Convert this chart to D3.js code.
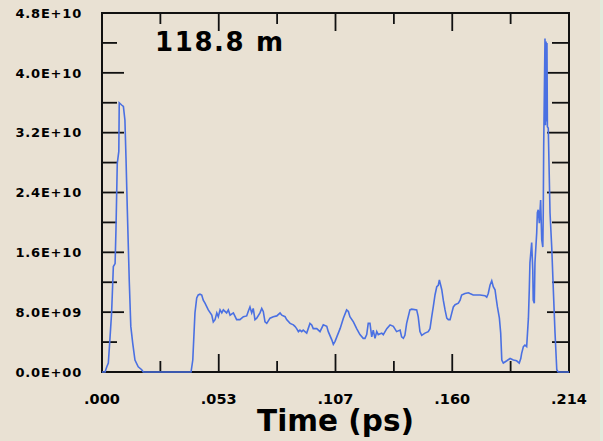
<!DOCTYPE html>
<html>
<head>
<meta charset="utf-8">
<script src="https://cdnjs.cloudflare.com/ajax/libs/d3/7.8.5/d3.min.js"></script>
<style>
body { margin: 0; background: #e9e1d3; }
svg text { font-family: "DejaVu Sans", sans-serif; font-weight: bold; fill: #000; }
</style>
</head>
<body>
<div id="chart"></div>
<script>
// time axis (ps) and signal (units of 1E+10)
var timePs = [
    0, 0.0014, 0.0022, 0.0029, 0.0037, 0.0044, 0.0052, 0.0060, 0.0064, 0.0070,
    0.0077, 0.0079, 0.0090, 0.0098, 0.0105, 0.0110, 0.0116, 0.0125, 0.0132, 0.0141,
    0.0151, 0.0166, 0.0182, 0.0189, 0.0408,
    0.0416, 0.0422, 0.0426, 0.0434, 0.0441, 0.0449, 0.0457, 0.0464, 0.0472, 0.0487,
    0.0503, 0.0510, 0.0518, 0.0526, 0.0533, 0.0541, 0.0549, 0.0556, 0.0571, 0.0579,
    0.0587, 0.0602, 0.0617, 0.0632, 0.0648, 0.0663, 0.0670, 0.0678, 0.0686, 0.0693,
    0.0701, 0.0709, 0.0724, 0.0732, 0.0739, 0.0747, 0.0755, 0.0770, 0.0785, 0.0801,
    0.0816, 0.0824, 0.0839, 0.0846, 0.0862, 0.0877, 0.0884, 0.0892, 0.0900, 0.0907,
    0.0915, 0.0922, 0.0938, 0.0945, 0.0953, 0.0961, 0.0968, 0.0984, 0.0999, 0.1014,
    0.1030, 0.1037, 0.1053, 0.1060, 0.1068, 0.1076, 0.1091, 0.1106, 0.1121, 0.1129,
    0.1136, 0.1152, 0.1167, 0.1182, 0.1197, 0.1205, 0.1213, 0.1220, 0.1228, 0.1236,
    0.1243, 0.1251, 0.1259, 0.1266, 0.1282, 0.1289, 0.1305, 0.1320, 0.1335, 0.1350,
    0.1366,
    0.1373, 0.1381, 0.1388, 0.1396, 0.1411, 0.1419, 0.1442, 0.1449, 0.1457, 0.1465,
    0.1480, 0.1495, 0.1503, 0.1511, 0.1518, 0.1526, 0.1534, 0.1541, 0.1546, 0.1552,
    0.1557, 0.1564, 0.1572, 0.1580, 0.1587, 0.1595, 0.1603, 0.1610, 0.1618, 0.1633,
    0.1641, 0.1648, 0.1663, 0.1679, 0.1686, 0.1701, 0.1732, 0.1755, 0.1763, 0.1770,
    0.1778, 0.1786, 0.1793, 0.1801, 0.1806, 0.1812, 0.1821, 0.1827, 0.1832, 0.1839,
    0.1855, 0.1870, 0.1885, 0.1900, 0.1912, 0.1919, 0.1923, 0.1931, 0.1938, 0.1946,
    0.1954, 0.1958, 0.1961, 0.1969, 0.1974, 0.1976, 0.1981, 0.1984, 0.1992, 0.1995,
    0.1999, 0.2004, 0.2010, 0.2015, 0.2020, 0.2022, 0.2024, 0.2030, 0.2032, 0.2035,
    0.2037, 0.2039, 0.2041, 0.2045, 0.2053, 0.2061, 0.2067, 0.2076, 0.2084, 0.2090,
    0.2140
];
var powerE10 = [
    0, 0, 0.07, 0.12, 0.47, 0.79, 1.41, 1.45, 1.90, 2.79,
    2.95, 3.60, 3.57, 3.55, 3.37, 2.86, 2.17, 1.21, 0.61, 0.38,
    0.16, 0.07, 0.03, 0, 0,
    0.16, 0.54, 0.79, 0.99, 1.03, 1.04, 1.03, 0.96, 0.92, 0.83,
    0.76, 0.67, 0.70, 0.79, 0.74, 0.83, 0.79, 0.83, 0.79, 0.83,
    0.76, 0.79, 0.70, 0.70, 0.74, 0.75, 0.81, 0.87, 0.79, 0.85,
    0.70, 0.72, 0.79, 0.85, 0.81, 0.67, 0.65, 0.72, 0.74, 0.75,
    0.79, 0.76, 0.74, 0.70, 0.65, 0.63, 0.61, 0.58, 0.54, 0.56,
    0.54, 0.56, 0.52, 0.58, 0.65, 0.63, 0.58, 0.58, 0.54, 0.63,
    0.61, 0.54, 0.43, 0.37, 0.41, 0.47, 0.58, 0.72, 0.83, 0.81,
    0.74, 0.67, 0.58, 0.50, 0.45, 0.45, 0.50, 0.65, 0.65, 0.47,
    0.56, 0.45, 0.54, 0.50, 0.52, 0.50, 0.58, 0.63, 0.61, 0.54,
    0.56,
    0.47, 0.45, 0.49, 0.65, 0.83, 0.84, 0.83, 0.74, 0.54, 0.49,
    0.52, 0.54, 0.58, 0.74, 0.87, 1.03, 1.14, 1.16, 1.23, 1.16,
    1.10, 0.96, 0.83, 0.72, 0.70, 0.70, 0.79, 0.87, 0.90, 0.92,
    0.96, 1.03, 1.05, 1.06, 1.05, 1.03, 1.03, 1.02, 1.00, 1.05,
    1.16, 1.22, 1.14, 1.10, 0.99, 0.87, 0.72, 0.52, 0.16, 0.12,
    0.15, 0.18, 0.16, 0.15, 0.12, 0.18, 0.25, 0.34, 0.36, 0.34,
    0.72, 1.10, 1.46, 1.73, 1.36, 0.96, 0.92, 1.46, 1.86, 2.13,
    2.17, 1.99, 2.30, 1.77, 1.67, 2.13, 3.01, 4.46, 3.30, 4.42,
    3.35, 4.40, 3.28, 3.26, 2.13, 1.66, 1.19, 0.52, 0.03, 0,
    0
];

var xMajor = [0, 0.0535, 0.107, 0.1605, 0.214];
var xMinor = [0.02675, 0.08025, 0.13375, 0.18725];
var xTickLabels = [".000", ".053", ".107", ".160", ".214"];
var yMajor = [0, 0.8, 1.6, 2.4, 3.2, 4.0, 4.8];
var yMinor = [0.4, 1.2, 2.0, 2.8, 3.6, 4.4];
var yTickLabels = ["0.0E+00", "8.0E+09", "1.6E+10", "2.4E+10", "3.2E+10", "4.0E+10", "4.8E+10"];

var margin = {top: 13, right: 34, bottom: 69, left: 102};
var svgWidth = 603, svgHeight = 441;
var width = svgWidth - margin.left - margin.right;
var height = svgHeight - margin.top - margin.bottom;

var svg = d3.select("#chart").append("svg")
    .attr("width", svgWidth)
    .attr("height", svgHeight);

svg.append("rect")
    .attr("width", svgWidth).attr("height", svgHeight)
    .attr("fill", "#e9e1d3");
svg.append("rect")
    .attr("x", 600).attr("width", 3).attr("height", svgHeight)
    .attr("fill", "#e2ebdc");

var g = svg.append("g")
    .attr("transform", "translate(" + margin.left + "," + margin.top + ")");

var x = d3.scaleLinear().domain([0, 0.214]).range([0, width]);
var y = d3.scaleLinear().domain([0, 4.8]).range([height, 0]);

// inward tick marks on all four sides
function xTicks(values, len) {
    var t = g.append("g");
    t.selectAll("line.bot").data(values).enter().append("line")
        .attr("x1", function(d) { return x(d); }).attr("x2", function(d) { return x(d); })
        .attr("y1", height).attr("y2", height - len);
    t.selectAll("line.top").data(values).enter().append("line")
        .attr("x1", function(d) { return x(d); }).attr("x2", function(d) { return x(d); })
        .attr("y1", 0).attr("y2", len);
    t.selectAll("line").attr("stroke", "#111").attr("stroke-width", 1.8);
}
function yTicks(values, lenLeft, lenRight) {
    var t = g.append("g");
    t.selectAll("line.left").data(values).enter().append("line")
        .attr("y1", function(d) { return y(d); }).attr("y2", function(d) { return y(d); })
        .attr("x1", 0).attr("x2", lenLeft);
    t.selectAll("line.right").data(values).enter().append("line")
        .attr("y1", function(d) { return y(d); }).attr("y2", function(d) { return y(d); })
        .attr("x1", width).attr("x2", width - lenRight);
    t.selectAll("line").attr("stroke", "#111").attr("stroke-width", 1.8);
}
xTicks(xMajor, 18);
xTicks(xMinor, 11);
yTicks(yMajor, 22, 22);
yTicks(yMinor, 15, 17);

// tick labels
g.append("g").selectAll("text").data(xMajor).enter().append("text")
    .attr("x", function(d) { return x(d); })
    .attr("y", height + 32)
    .attr("text-anchor", "middle")
    .style("font-size", "14.5px")
    .text(function(d, i) { return xTickLabels[i]; });

g.append("g").selectAll("text").data(yMajor).enter().append("text")
    .attr("x", -20)
    .attr("y", function(d) { return y(d); })
    .attr("dy", "0.36em")
    .attr("text-anchor", "end")
    .style("font-size", "13px")
    .style("letter-spacing", "0.8px")
    .text(function(d, i) { return yTickLabels[i]; });

// frame
g.append("rect")
    .attr("width", width).attr("height", height)
    .attr("fill", "none").attr("stroke", "#111").attr("stroke-width", 2);

// signal
var line = d3.line()
    .x(function(d, i) { return x(timePs[i]); })
    .y(function(d) { return y(d); });

g.append("path")
    .datum(powerE10)
    .attr("d", line)
    .attr("fill", "none")
    .attr("stroke", "#4a70e2")
    .attr("stroke-width", 1.6)
    .attr("stroke-linejoin", "miter");

g.append("text")
    .attr("x", 53).attr("y", 38)
    .style("font-size", "26px").style("letter-spacing", "1.6px")
    .text("118.8 m");

svg.append("text")
    .attr("x", margin.left + width / 2).attr("y", 431)
    .attr("text-anchor", "middle")
    .style("font-size", "29.5px")
    .text("Time (ps)");
</script>
</body>
</html>
